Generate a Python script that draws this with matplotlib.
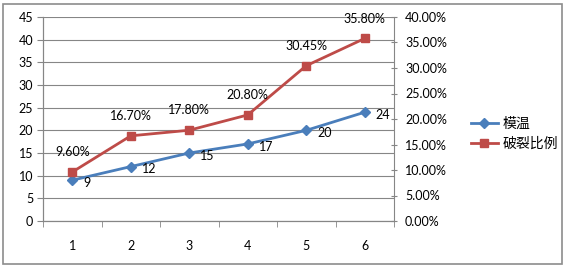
import matplotlib.pyplot as plt
from matplotlib.patches import Rectangle
from matplotlib.ticker import FuncFormatter, FixedLocator

plt.rcParams['font.family'] = ['Lato', 'Noto Sans CJK SC', 'DejaVu Sans']

categories = [1, 2, 3, 4, 5, 6]
mold_temp = [9, 12, 15, 17, 20, 24]
crack_ratio = [0.096, 0.167, 0.178, 0.208, 0.3045, 0.358]
crack_labels = ['9.60%', '16.70%', '17.80%', '20.80%', '30.45%', '35.80%']

blue = '#4a7ebb'
red = '#be4b48'

fig = plt.figure(figsize=(5.66, 2.67), dpi=100)
ax = fig.add_axes([43 / 566, 1 - 221 / 267, 351 / 566, 204 / 267])
ax2 = ax.twinx()

l1, = ax.plot(categories, mold_temp, color=blue, lw=2, marker='D', ms=5,
              label='模温', zorder=3)
l2, = ax2.plot(categories, crack_ratio, color=red, lw=2, marker='s', ms=6,
               label='破裂比例', zorder=3)

for x, y in zip(categories, mold_temp):
    ax.annotate(str(y), (x, y), xytext=(8, -2), textcoords='offset points',
                fontsize=9, va='center', ha='left')
for x, y, s in zip(categories, crack_ratio, crack_labels):
    ax2.annotate(s, (x, y), xytext=(0, 10), textcoords='offset points',
                 fontsize=9, va='bottom', ha='center')

ax.set_xlim(0.5, 6.5)
ax.set_ylim(0, 45)
ax.set_yticks(range(0, 46, 5))
ax2.set_ylim(0, 0.40)
ax2.set_yticks([i * 0.05 for i in range(9)])
ax2.yaxis.set_major_formatter(FuncFormatter(lambda v, p: f'{v * 100:.2f}%'))

ax.set_xticks(categories)
ax.xaxis.set_minor_locator(FixedLocator([0.5 + i for i in range(7)]))
ax.tick_params(axis='x', which='major', length=0, pad=14, labelsize=9)
ax.tick_params(axis='x', which='minor', length=4, color='#868686', direction='out')
ax.tick_params(axis='y', length=4, color='#868686', labelsize=9, pad=3)
ax2.tick_params(axis='y', length=4, color='#868686', labelsize=9, pad=6,
                direction='inout')

ax.grid(axis='y', color='#868686', lw=0.8)
ax.set_axisbelow(True)
for a in (ax, ax2):
    a.spines['top'].set_visible(False)
    a.spines['left'].set_color('#868686')
    a.spines['right'].set_color('#868686')
    a.spines['bottom'].set_color('#868686')
ax.spines['right'].set_visible(False)

fig.legend(handles=[l1, l2], loc='center left', bbox_to_anchor=(458 / 566, 1 - 133 / 267),
           frameon=False, fontsize=10, handlelength=2.0, handletextpad=0.3,
           labelspacing=0.5)

fig.patches.append(Rectangle((3 / 566, 3 / 267), 559 / 566, 260 / 267,
                             transform=fig.transFigure, fill=False,
                             edgecolor='#8c8c8c', lw=1.2))

fig.savefig('out.png', dpi=100)
